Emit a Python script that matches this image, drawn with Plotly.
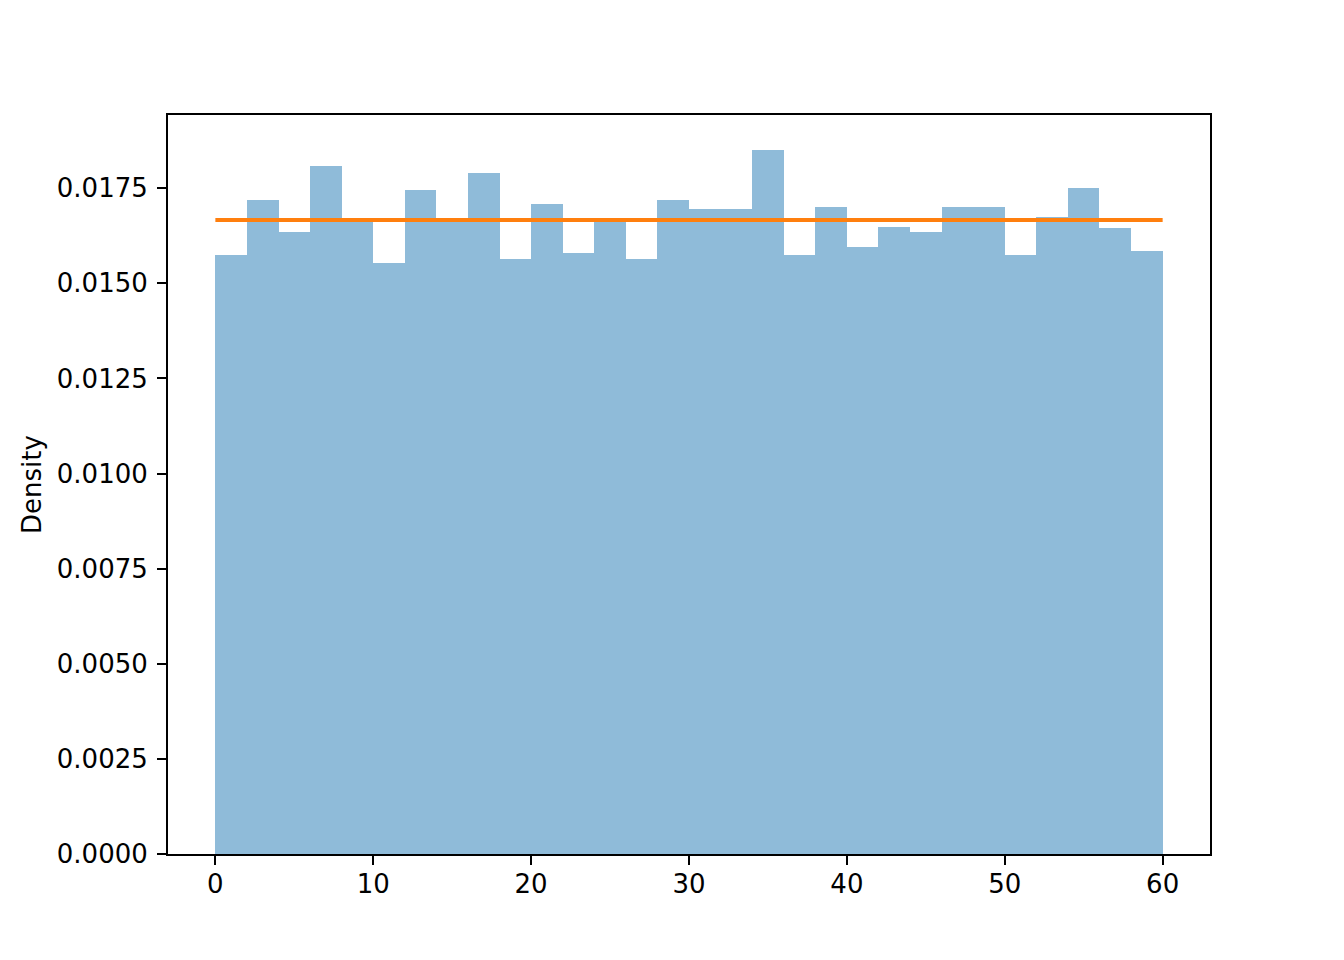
import plotly.graph_objects as go

# Histogram bin edges (30 bins of width 2 over 0..60)
bin_edges = [0, 2, 4, 6, 8, 10, 12, 14, 16, 18, 20, 22, 24, 26, 28, 30,
             32, 34, 36, 38, 40, 42, 44, 46, 48, 50, 52, 54, 56, 58, 60]
density = [0.01574, 0.01718, 0.01634, 0.01808, 0.01665, 0.01553, 0.01745,
           0.01665, 0.01789, 0.01563, 0.01708, 0.01579, 0.01665, 0.01563,
           0.01718, 0.01695, 0.01695, 0.01850, 0.01574, 0.01700, 0.01595,
           0.01648, 0.01634, 0.01700, 0.01700, 0.01574, 0.01674, 0.01750,
           0.01645, 0.01584]
pdf_x = [0, 60]
pdf_y = [0.016667, 0.016667]
x_ticks = [0, 10, 20, 30, 40, 50, 60]
y_ticks = [0.0, 0.0025, 0.005, 0.0075, 0.01, 0.0125, 0.015, 0.0175]

centers = [(a + b) / 2 for a, b in zip(bin_edges[:-1], bin_edges[1:])]
widths = [b - a for a, b in zip(bin_edges[:-1], bin_edges[1:])]

fig = go.Figure()
fig.add_trace(go.Bar(
    x=centers, y=density, width=widths,
    marker=dict(color="rgba(31,119,180,0.5)", line=dict(width=0)),
    showlegend=False, hoverinfo="x+y",
))
fig.add_trace(go.Scatter(
    x=pdf_x, y=pdf_y, mode="lines",
    line=dict(color="#ff7f0e", width=4),
    showlegend=False,
))

font = dict(family="DejaVu Sans", size=26, color="black")
fig.update_layout(
    width=1344, height=960,
    margin=dict(l=160, r=142, t=107, b=114, pad=0),
    paper_bgcolor="white", plot_bgcolor="white",
    bargap=0, font=font,
)
fig.update_xaxes(
    range=[-3, 63], tickvals=x_ticks, ticktext=[str(v) for v in x_ticks],
    showgrid=False, zeroline=False,
    showline=True, linecolor="black", linewidth=2, mirror=True,
    ticks="outside", ticklen=9, tickwidth=2, tickcolor="black",
    ticklabelstandoff=-3, tickfont=font,
)
fig.update_yaxes(
    range=[0, 0.019425], tickvals=y_ticks, tickformat=".4f",
    showgrid=False, zeroline=False,
    showline=True, linecolor="black", linewidth=2, mirror=True,
    ticks="outside", ticklen=9, tickwidth=2, tickcolor="black",
    ticklabelstandoff=4, tickfont=font,
    title=dict(text="Density", font=font, standoff=8),
)

fig.write_html("out.html")
